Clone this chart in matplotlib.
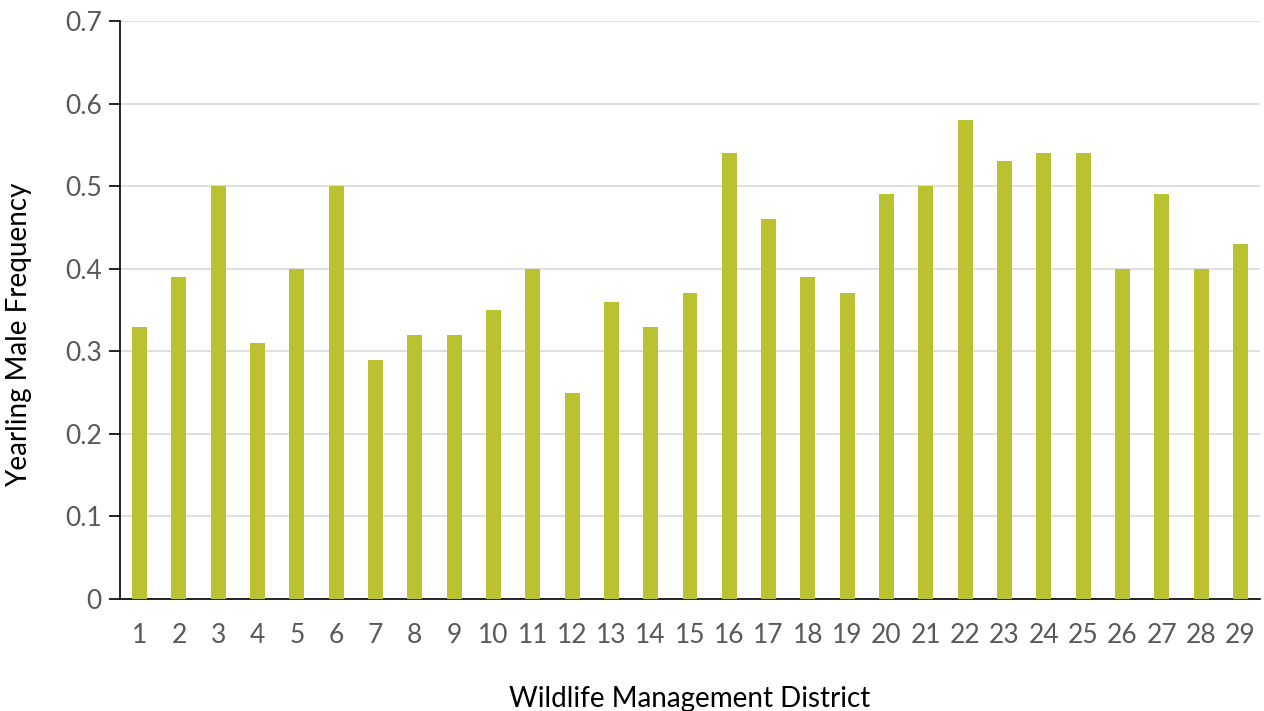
import matplotlib
matplotlib.use('Agg')
import matplotlib.pyplot as plt
import numpy as np

plt.rcParams['font.family'] = ['Lato', 'DejaVu Sans']

districts = [str(i) for i in range(1, 30)]
frequency = [0.33, 0.39, 0.50, 0.31, 0.40, 0.50, 0.29, 0.32, 0.32, 0.35,
             0.40, 0.25, 0.36, 0.33, 0.37, 0.54, 0.46, 0.39, 0.37, 0.49,
             0.50, 0.58, 0.53, 0.54, 0.54, 0.40, 0.49, 0.40, 0.43]
yticks = [0, 0.1, 0.2, 0.3, 0.4, 0.5, 0.6, 0.7]
ytick_labels = ['0', '0.1', '0.2', '0.3', '0.4', '0.5', '0.6', '0.7']

fig = plt.figure(figsize=(12.64, 7.11), dpi=100)
ax = fig.add_axes([120 / 1264, 1 - 599 / 711, 1140 / 1264, 578 / 711])

x = np.arange(len(districts))
ax.bar(x, frequency, width=0.38, color='#bbc232', zorder=3)

ax.set_xlim(-0.5, len(districts) - 0.5)
ax.set_ylim(0, 0.7)
ax.set_yticks(yticks, ytick_labels)
ax.set_xticks(x, districts)
ax.yaxis.grid(True, color='#d9d9d9', lw=1.2, zorder=0)

for side in ('top', 'right'):
    ax.spines[side].set_visible(False)
for side in ('left', 'bottom'):
    ax.spines[side].set_color('black')
    ax.spines[side].set_linewidth(1.2)

ax.tick_params(axis='y', length=8, width=1.2, color='black', labelsize=19,
               labelcolor='#595959', pad=5)
ax.tick_params(axis='x', length=0, labelsize=19, labelcolor='#595959', pad=17)

ax.set_xlabel('Wildlife Management District', fontsize=20, labelpad=28)
ax.set_ylabel('Yearling Male Frequency', fontsize=20)
ax.yaxis.set_label_coords(-0.077, 0.457)

fig.savefig('out.png', dpi=100)
